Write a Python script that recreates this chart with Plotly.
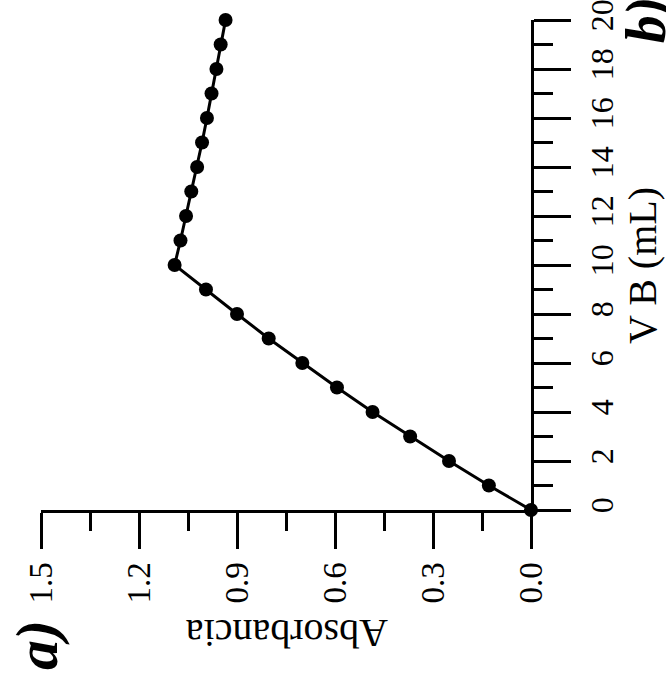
import plotly.graph_objects as go

vb_ml = list(range(0, 21))
absorbance = [0.000, 0.129, 0.251, 0.370, 0.485, 0.594, 0.700, 0.803, 0.900, 0.995,
              1.091, 1.073, 1.056, 1.040, 1.022, 1.007, 0.992, 0.978, 0.963, 0.950, 0.935]
abs_ticks = [0.0, 0.3, 0.6, 0.9, 1.2, 1.5]
abs_ticklabels = ["0.0", "0.3", "0.6", "0.9", "1.2", "1.5"]
vb_ticks = list(range(0, 21, 2))

FONT = "Liberation Serif"

fig = go.Figure()
fig.add_trace(go.Scatter(
    x=absorbance, y=vb_ml, mode="lines+markers",
    line=dict(color="black", width=3),
    marker=dict(color="black", size=14),
    cliponaxis=False, showlegend=False,
))

fig.update_layout(
    width=666, height=682,
    margin=dict(l=41, r=135, t=20, b=172, autoexpand=False),
    paper_bgcolor="white", plot_bgcolor="white",
    font=dict(family=FONT, color="black", size=30),
    xaxis=dict(
        range=[1.5, 0], tickvals=abs_ticks, ticktext=abs_ticklabels,
        ticks="outside", ticklen=36, tickwidth=3, tickcolor="black",
        minor=dict(dtick=0.15, ticks="outside", ticklen=18, tickwidth=3, tickcolor="black"),
        showline=True, linewidth=3, linecolor="black", mirror=False,
        showgrid=False, zeroline=False, tickangle=-90, automargin=False,
        tickfont=dict(family=FONT, size=33), ticklabeloverflow="allow",
    ),
    yaxis=dict(
        range=[0, 20], tickvals=vb_ticks, side="right",
        ticks="outside", ticklen=37, tickwidth=3, tickcolor="black",
        minor=dict(dtick=1, ticks="outside", ticklen=19, tickwidth=3, tickcolor="black"),
        showline=True, linewidth=3, linecolor="black",
        showgrid=False, zeroline=False, tickangle=-90, automargin=False,
        tickfont=dict(family=FONT, size=32), ticklabeloverflow="allow",
        ticklabelstandoff=4,
    ),
    annotations=[
        dict(text="V B (mL)", x=1.2265, y=0.5, xref="paper", yref="paper",
             showarrow=False, textangle=-90, font=dict(family=FONT, size=40),
             xanchor="center", yanchor="middle"),
        dict(text="Absorbancia", x=0.501, y=-0.251, xref="paper", yref="paper",
             showarrow=False, textangle=180, font=dict(family=FONT, size=40),
             xanchor="center", yanchor="middle"),
        dict(text="<b><i>a)</i></b>", x=-0.008, y=-0.2755, xref="paper", yref="paper",
             showarrow=False, textangle=-90, font=dict(family=FONT, size=60),
             xanchor="center", yanchor="middle"),
        dict(text="<b><i>b)</i></b>", x=1.235, y=1.0, xref="paper", yref="paper",
             showarrow=False, textangle=-90, font=dict(family=FONT, size=56),
             xanchor="center", yanchor="middle"),
    ],
)

fig.write_html("out.html")
